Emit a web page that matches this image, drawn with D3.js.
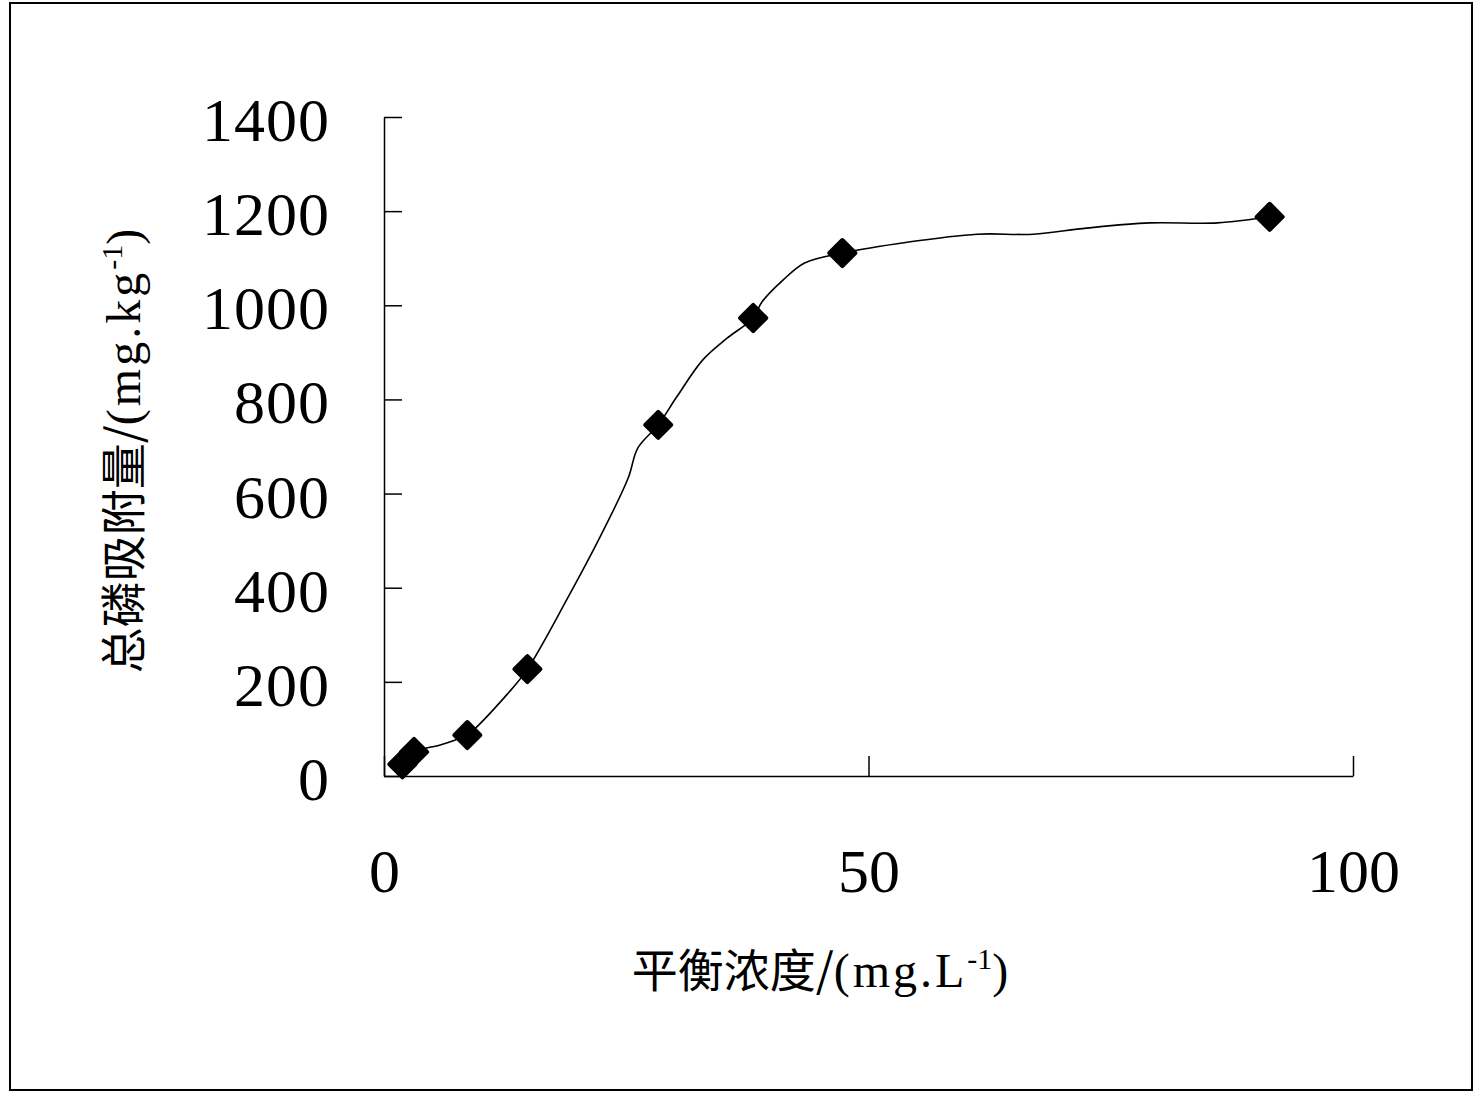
<!DOCTYPE html>
<html>
<head>
<meta charset="utf-8">
<script src="https://cdn.jsdelivr.net/npm/d3@7"></script>
<style>
  html, body { margin: 0; padding: 0; background: #fff; }
  svg { display: block; }
</style>
</head>
<body>
<svg id="chart" width="1480" height="1096"></svg>
<script>
// ---- data ----
const markerX = [1.9, 3.1, 8.6, 14.8, 28.3, 38.1, 47.3, 91.4];
const markerY = [25, 51, 87, 227, 746, 973, 1111, 1188];

const lineX = [1.9, 3.1, 5.8, 7.3, 8.6, 12.9, 14.8, 19.0, 22.3, 25.2, 26.2, 28.3, 30.2, 32.9, 35.4, 38.1, 39.0, 41.2, 43.4, 47.3, 54.0, 61.2, 67.0, 72.5, 79.0, 86.0, 91.4];
const lineY = [25, 51, 66, 76, 87, 178, 227, 380, 508, 633, 697, 746, 805, 884, 930, 973, 1007, 1054, 1090, 1111, 1134, 1151, 1151, 1164, 1175, 1175, 1188];

const xTicks = [0, 50, 100];
const yTicks = [0, 200, 400, 600, 800, 1000, 1200, 1400];

const xTitle = "平衡浓度/";
const yTitle = "总磷吸附量/";

// ---- layout ----
(function () {
const svg = d3.select("#chart");
const pLeft = 384, pRight = 1353, pTop = 117, pBottom = 776;

svg.append("rect")
  .attr("x", 10).attr("y", 3).attr("width", 1462).attr("height", 1087)
  .attr("fill", "none").attr("stroke", "#000").attr("stroke-width", 2);

const x = d3.scaleLinear().domain([0, 100]).range([pLeft, pRight]);
const y = d3.scaleLinear().domain([0, 1400]).range([pBottom, pTop]);

const numFont = "'Liberation Serif', 'DejaVu Serif', serif";

// y axis
const gy = svg.append("g").attr("transform", `translate(${pLeft},0)`)
  .call(d3.axisLeft(y).tickValues(yTicks).tickFormat(d3.format("d"))
    .tickSizeInner(-18).tickSizeOuter(0).tickPadding(54));
gy.select(".domain").attr("stroke", "#000").attr("stroke-width", 1.5);
gy.selectAll(".tick line").attr("stroke", "#000").attr("stroke-width", 1.5);
gy.selectAll(".tick text")
  .attr("font-family", numFont).attr("font-size", 62).attr("fill", "#000")
  .attr("letter-spacing", 1)
  .attr("dy", "0.38em");

// x axis
const gx = svg.append("g").attr("transform", `translate(0,${pBottom})`)
  .call(d3.axisBottom(x).tickValues(xTicks).tickFormat(d3.format("d"))
    .tickSizeInner(-20).tickSizeOuter(0).tickPadding(116));
gx.select(".domain").attr("stroke", "#000").attr("stroke-width", 1.5);
gx.selectAll(".tick line").attr("stroke", "#000").attr("stroke-width", 1.5);
gx.selectAll(".tick text")
  .attr("font-family", numFont).attr("font-size", 62).attr("fill", "#000")
  .attr("dy", "0");

// line
const pts = lineX.map((d, i) => [d, lineY[i]]);
svg.append("path")
  .datum(pts)
  .attr("fill", "none").attr("stroke", "#000").attr("stroke-width", 1.6)
  .attr("d", d3.line().x(d => x(d[0])).y(d => y(d[1])).curve(d3.curveCatmullRom.alpha(0.5)));

// markers (rounded diamonds)
const mk = markerX.map((d, i) => [d, markerY[i]]);
svg.append("g").selectAll("path")
  .data(mk).join("path")
  .attr("transform", d => `translate(${x(d[0])},${y(d[1])}) rotate(45)`)
  .attr("d", d3.symbol().type(d3.symbolSquare).size(340)())
  .attr("fill", "#000").attr("stroke", "#000").attr("stroke-width", 4)
  .attr("stroke-linejoin", "round");

// titles
const cjk = "'Noto Sans CJK SC', 'Noto Sans', sans-serif";
const tx = svg.append("text")
  .attr("x", 820).attr("y", 987)
  .attr("text-anchor", "middle").attr("fill", "#000");
tx.append("tspan").attr("font-family", cjk).attr("font-size", 46).text(xTitle);
tx.append("tspan").attr("font-family", numFont).attr("font-size", 48).attr("letter-spacing", 3).text("(mg.L");
tx.append("tspan").attr("font-family", numFont).attr("font-size", 30).attr("dy", -18).text("-1");
tx.append("tspan").attr("font-family", numFont).attr("font-size", 48).attr("dy", 18).text(")");

const ty = svg.append("text")
  .attr("transform", "translate(140,451) rotate(-90)")
  .attr("text-anchor", "middle").attr("fill", "#000");
ty.append("tspan").attr("font-family", cjk).attr("font-size", 46).text(yTitle);
ty.append("tspan").attr("font-family", numFont).attr("font-size", 48).attr("letter-spacing", 3).text("(mg.kg");
ty.append("tspan").attr("font-family", numFont).attr("font-size", 30).attr("dy", -18).text("-1");
ty.append("tspan").attr("font-family", numFont).attr("font-size", 48).attr("dy", 18).text(")");
})();
</script>
</body>
</html>
